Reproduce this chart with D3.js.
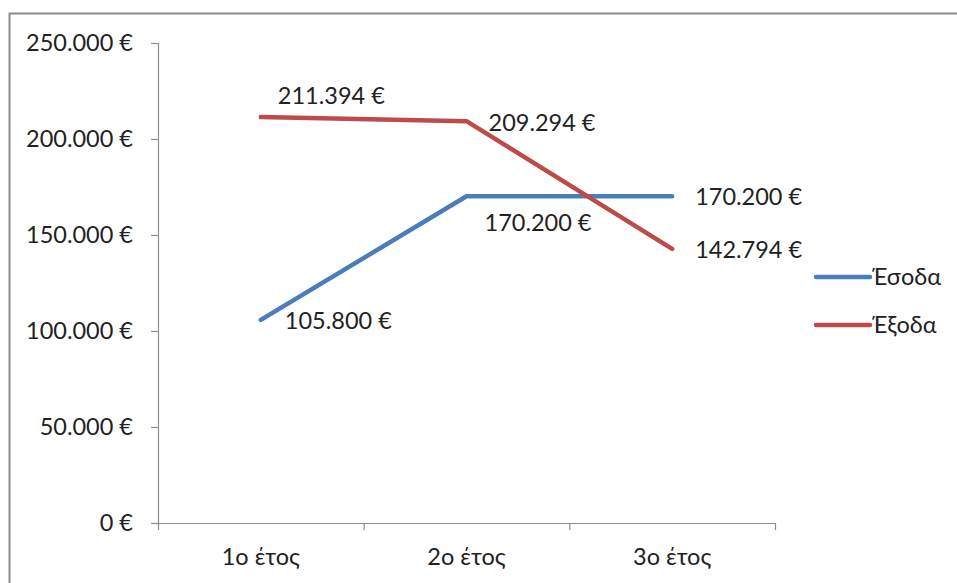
<!DOCTYPE html>
<html>
<head>
<meta charset="utf-8">
<script src="https://cdn.jsdelivr.net/npm/d3@7"></script>
<style>
  body { margin: 0; background: #fff; }
  text { font-family: Lato, "Open Sans", sans-serif; fill: #222; }
</style>
</head>
<body>
<div id="chart"></div>
<script>
// Data
const years = ["1ο έτος", "2ο έτος", "3ο έτος"];
const income = [105800, 170200, 170200];   // Έσοδα
const expenses = [211394, 209294, 142794]; // Έξοδα
const seriesNames = ["Έσοδα", "Έξοδα"];
const yTicks = [0, 50000, 100000, 150000, 200000, 250000];

// label offsets (dx, dy from the point) so they sit like in the original
const incomeLabelOff = [[24, 1], [18, 27], [23, 1]];
const expenseLabelOff = [[17, -21], [22, 2], [23, 1]];

const width = 957, height = 583;
const margin = { top: 43, left: 158, right: 182, bottom: 60 };
const colors = ["#4a7ebb", "#be4b48"];
const fontSize = 23.5;

const locale = d3.formatLocale({ decimal: ",", thousands: ".", grouping: [3], currency: ["", " €"] });
const fmt = locale.format("$,.0f");

const svg = d3.select("#chart").append("svg")
  .attr("width", width)
  .attr("height", height);

// outer frame
svg.append("rect")
  .attr("x", 9.5).attr("y", 13.5)
  .attr("width", 960).attr("height", 600)
  .attr("fill", "none")
  .attr("stroke", "#8c8c8c")
  .attr("stroke-width", 2);

const xScale = d3.scaleBand()
  .domain(years)
  .range([margin.left, width - margin.right]);

const xEdge = d3.scaleLinear()
  .domain([0, years.length])
  .range([margin.left, width - margin.right]);

const yScale = d3.scaleLinear()
  .domain([0, 250000])
  .range([height - margin.bottom, margin.top]);

const cx = d => xScale(d) + xScale.bandwidth() / 2;

// y axis
const yAxisGroup = svg.append("g")
  .attr("transform", `translate(${margin.left}, 0)`)
  .call(d3.axisLeft(yScale).tickValues(yTicks).tickFormat(fmt).tickSize(7).tickPadding(18));

// x axis: ticks on category boundaries, labels in the middle
const xAxisGroup = svg.append("g")
  .attr("transform", `translate(0, ${height - margin.bottom})`)
  .call(d3.axisBottom(xEdge).tickValues(d3.range(years.length + 1)).tickFormat("").tickSize(7).tickSizeOuter(0));

const xLabelGroup = svg.append("g")
  .attr("transform", `translate(0, ${height - margin.bottom})`)
  .call(d3.axisBottom(xScale).tickSize(0).tickPadding(25));
xLabelGroup.select(".domain").remove();

svg.selectAll("g").attr("font-size", null).attr("font-family", null);
svg.selectAll(".tick text").style("font-size", fontSize + "px").attr("fill", "#222");
svg.selectAll(".domain, .tick line").attr("stroke", "#8c8c8c").attr("stroke-width", 1.2);

// lines
const lineFunction = d3.line()
  .x((d, i) => cx(years[i]))
  .y(d => yScale(d));

const series = [income, expenses];
const offsets = [incomeLabelOff, expenseLabelOff];

svg.selectAll("path.line")
  .data(series)
  .join("path")
  .attr("class", "line")
  .attr("d", d => lineFunction(d))
  .attr("fill", "none")
  .attr("stroke", (d, i) => colors[i])
  .attr("stroke-width", 4.5)
  .attr("stroke-linecap", "round")
  .attr("stroke-linejoin", "round");

// data labels
series.forEach((s, si) => {
  svg.selectAll(`.label-${si}`)
    .data(s)
    .join("text")
    .attr("class", `label-${si}`)
    .attr("x", (d, i) => cx(years[i]) + offsets[si][i][0])
    .attr("y", (d, i) => yScale(d) + offsets[si][i][1])
    .attr("dy", "0.35em")
    .style("font-size", fontSize + "px")
    .text(d => fmt(d));
});

// legend
const legend = svg.selectAll(".legend")
  .data(seriesNames)
  .join("g")
  .attr("class", "legend")
  .attr("transform", (d, i) => `translate(816, ${277 + i * 48})`);

legend.append("line")
  .attr("x1", 0).attr("x2", 54)
  .attr("stroke", (d, i) => colors[i])
  .attr("stroke-width", 4.5)
  .attr("stroke-linecap", "round");

legend.append("text")
  .attr("x", 56)
  .attr("dy", "0.35em")
  .style("font-size", fontSize + "px")
  .text(d => d);
</script>
</body>
</html>
